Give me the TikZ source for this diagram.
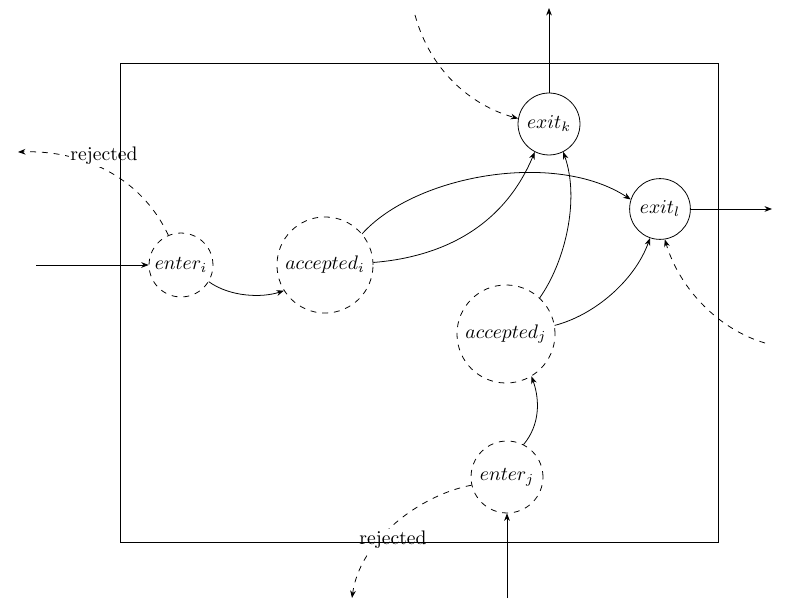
\documentclass[tikz,border=0pt]{standalone}
\usetikzlibrary{arrows.meta}
\begin{document}
\begin{tikzpicture}[x=0.51pt,y=-0.51pt,>={Stealth[length=3.8pt,width=2.9pt,inset=1.2pt]},
  st/.style={circle,draw,inner sep=0pt},
  dst/.style={circle,draw,dashed,inner sep=0pt},
  lab/.style={fill=white,inner sep=1pt}]
\useasboundingbox (0,0) rectangle (796,616);
% states
\node[dst,minimum size=32.6pt] (ei) at (181,265) {$enter_i$};
\node[dst,minimum size=49pt] (ai) at (325,265) {$accepted_i$};
\node[st,minimum size=31.6pt] (xk) at (549,124) {$exit_k$};
\node[st,minimum size=31pt] (xl) at (660,209) {$exit_l$};
\node[dst,minimum size=50pt] (aj) at (506,334) {$accepted_j$};
\node[dst,minimum size=36.7pt] (ej) at (507,477) {$enter_j$};
% free ends
\coordinate (ini) at (36,265);
\coordinate (inj) at (507,598);
\coordinate (outk) at (549,8);
\coordinate (outl) at (772,209);
\coordinate (dk) at (415,15);
\coordinate (dl) at (765,343);
\coordinate (ri) at (18,152);
\coordinate (rj) at (352,598);
% solid connectors
\draw[->] (ini) -- (ei.west);
\draw[->] (inj) -- (ej.south);
\draw[->] (xk.north) -- (outk);
\draw[->] (xl.east) -- (outl);
\draw[->] (ei.-31) .. controls (230,297) and (262,298) .. (ai.-148);
\draw[->] (ai.40) .. controls (415,175) and (555,150) .. (xl.162);
\draw[->] (ai.3) .. controls (430,258) and (500,235) .. (xk.-117);
\draw[->] (aj.47) .. controls (565,262) and (580,200) .. (xk.-63);
\draw[->] (aj.10) .. controls (595,315) and (635,280) .. (xl.-109);
\draw[->] (ej.63) .. controls (540,425) and (540,400) .. (aj.-59);
% dashed connectors
\draw[->,dashed] (dk) .. controls (430,70) and (470,105) .. (xk.170);
\draw[->,dashed] (dl) .. controls (720,330) and (680,290) .. (xl.-81);
\draw[->,dashed] (ei.113) .. controls (140,175) and (80,150) .. (ri);
\draw[->,dashed] (ej.-167) .. controls (420,495) and (360,540) .. (rj);
\node[lab] (rli) at (104,156) {rejected};
\node[lab] (rlj) at (393,540) {rejected};
% boundary
\draw (120,63) rectangle (718,542);
\end{tikzpicture}
\end{document}
